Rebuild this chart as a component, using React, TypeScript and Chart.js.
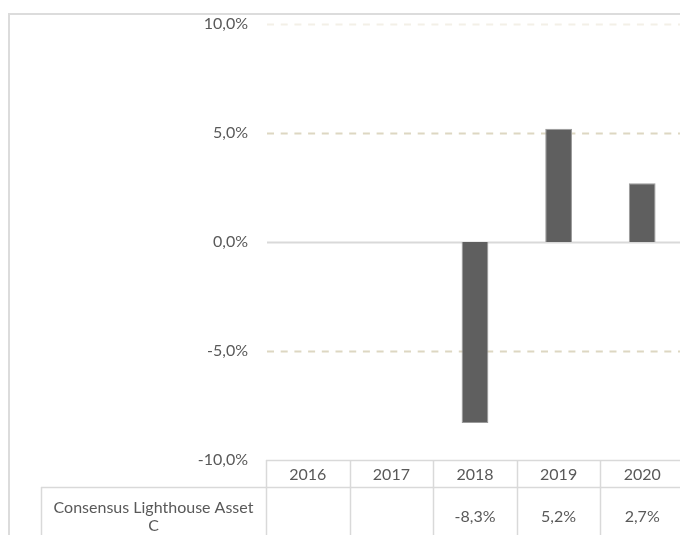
import React, { useEffect, useRef } from "react";
import { Chart, registerables } from "chart.js";

Chart.register(...registerables);

const categories = ["2016", "2017", "2018", "2019", "2020"];
const seriesName = "Consensus Lighthouse Asset C";
const seriesLabelLines = ["Consensus Lighthouse Asset", "C"];
const seriesValues: (number | null)[] = [null, null, -8.3, 5.2, 2.7];
const yTicks = [-10, -5, 0, 5, 10];

const FONT = "Lato";
const FS = 16;
const TEXT = "#595959";
const LINE = "#d9d9d9";

const fmt = (v: number) => v.toFixed(1).replace(".", ",") + "%";

const decorPlugin = {
  id: "decor",
  beforeDatasetsDraw(chart: any) {
    const { ctx, chartArea, scales } = chart;
    const y = scales.y;
    ctx.save();
    // outer border
    ctx.strokeStyle = "#dcdcdc";
    ctx.lineWidth = 2;
    ctx.strokeRect(1, 6, chart.width + 20, chart.height + 20);
    // grid lines
    yTicks.forEach((t) => {
      if (t === -10) return;
      const py = Math.round(y.getPixelForValue(t)) + 0.5;
      ctx.beginPath();
      if (t === 0) {
        ctx.setLineDash([]);
        ctx.strokeStyle = LINE;
        ctx.lineWidth = 2;
      } else if (Math.abs(t) === 10) {
        ctx.setLineDash([7, 6.7]);
        ctx.strokeStyle = "#f3f0e7";
        ctx.lineWidth = 2;
      } else {
        ctx.setLineDash([7, 6.7]);
        ctx.strokeStyle = "#ddd7c2";
        ctx.lineWidth = 2;
      }
      ctx.moveTo(chartArea.left + 1, py);
      ctx.lineTo(chart.width, py);
      ctx.stroke();
    });
    ctx.restore();
  },
  afterDatasetsDraw(chart: any) {
    const { ctx, chartArea, scales } = chart;
    const x = scales.x;
    const top = chartArea.bottom;
    const rowH = 27;
    const mid = top + rowH;
    const labelLeft = 33;
    const colW = x.getPixelForValue(1) - x.getPixelForValue(0);
    ctx.save();
    ctx.strokeStyle = LINE;
    ctx.lineWidth = 1.5;
    ctx.setLineDash([]);
    ctx.beginPath();
    ctx.moveTo(chartArea.left, top + 0.5);
    ctx.lineTo(chart.width, top + 0.5);
    ctx.moveTo(labelLeft, mid + 0.5);
    ctx.lineTo(chart.width, mid + 0.5);
    for (let i = 0; i <= categories.length; i++) {
      const px = Math.round(x.getPixelForValue(i) - colW / 2) + 0.5;
      ctx.moveTo(px, top);
      ctx.lineTo(px, chart.height);
    }
    ctx.moveTo(labelLeft + 0.5, mid);
    ctx.lineTo(labelLeft + 0.5, chart.height);
    ctx.stroke();

    ctx.fillStyle = TEXT;
    ctx.font = `${FS}px ${FONT}`;
    ctx.textAlign = "center";
    ctx.textBaseline = "middle";
    categories.forEach((c, i) => {
      const cx = x.getPixelForValue(i);
      ctx.fillText(c, cx, top + rowH / 2 + 1);
      const v = seriesValues[i];
      if (v !== null && v !== undefined) {
        ctx.fillText(fmt(v), cx, mid + 30);
      }
    });
    const lcx = (labelLeft + chartArea.left) / 2;
    seriesLabelLines.forEach((l, i) => {
      ctx.fillText(l, lcx, mid + 21 + i * 18);
    });
    ctx.restore();
  },
};

export default function App() {
  const ref = useRef<HTMLCanvasElement | null>(null);
  useEffect(() => {
    if (!ref.current) return;
    const chart = new Chart(ref.current, {
      type: "bar",
      data: {
        labels: categories,
        datasets: [
          {
            label: seriesName,
            data: seriesValues as any,
            backgroundColor: "#5f5f5f",
            borderColor: "#9a9a9a",
            borderWidth: 1,
            barPercentage: 0.32,
            categoryPercentage: 1,
          },
        ],
      },
      options: {
        responsive: false,
        animation: false,
        layout: { padding: { top: 16, right: 44, bottom: 108, left: 0 } },
        plugins: { legend: { display: false }, tooltip: { enabled: false } },
        scales: {
          x: { display: false, offset: true },
          y: {
            min: -10,
            max: 10,
            afterFit: (s: any) => {
              s.width = 258;
            },
            afterBuildTicks: (s: any) => {
              s.ticks = yTicks.map((v) => ({ value: v }));
            },
            ticks: {
              padding: 0,
              color: TEXT,
              font: { family: FONT, size: FS },
              callback: (v: any) => fmt(Number(v)),
            },
            grid: { display: false, drawTicks: true, tickLength: 18 },
            border: { display: false },
          },
        },
      },
      plugins: [decorPlugin],
    });
    return () => chart.destroy();
  }, []);
  return (
    <div
      style={{
        position: "fixed",
        left: 0,
        top: 0,
        width: 680,
        height: 535,
        overflow: "hidden",
      }}
    >
      <canvas
        ref={ref}
        width={720}
        height={560}
        style={{ position: "absolute", left: 8, top: 8, width: 720, height: 560, display: "block" }}
      />
    </div>
  );
}
